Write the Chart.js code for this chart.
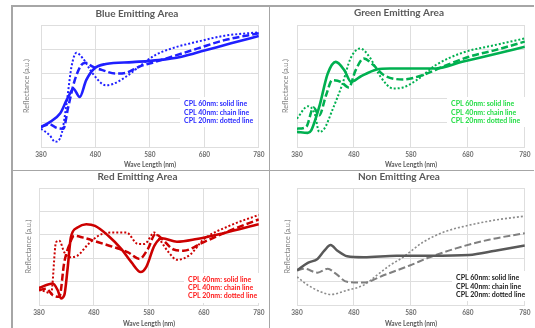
<!DOCTYPE html>
<html>
<head>
<meta charset="utf-8">
<script src="https://cdn.jsdelivr.net/npm/chart.js@4.4.1/dist/chart.umd.min.js"></script>
<style>
  html, body { margin: 0; padding: 0; background: #ffffff; }
  body { width: 535px; height: 328px; position: relative; overflow: hidden; }
  canvas { position: absolute; }
  .rule { position: absolute; background: #a6a6a6; z-index: 5; }
</style>
</head>
<body>
<div class="rule" style="left:11px; top:5px; width:523px; height:1.5px;"></div>
<div class="rule" style="left:11px; top:5px; width:1.5px; height:323px;"></div>
<div class="rule" style="left:268.5px; top:5px; width:1.5px; height:323px;"></div>
<div class="rule" style="left:11px; top:169.5px; width:523px; height:1.5px;"></div>

<canvas id="blueChart"></canvas>
<canvas id="greenChart"></canvas>
<canvas id="redChart"></canvas>
<canvas id="nonChart"></canvas>

<script>
// ---- wavelength axis ----
const waveTicks = [380, 480, 580, 680, 780];
const legendLines = ['CPL 60nm: solid line', 'CPL 40nm: chain line', 'CPL 20nm: dotted line'];

// ---- Blue emitting area ----
const blue60Nm  = [380, 394, 415, 427, 436, 439, 451, 463, 478, 499, 548, 596, 638, 680, 729, 780];
const blue60Val = [0.82, 0.99, 1.37, 1.92, 2.30, 2.40, 2.05, 2.74, 3.22, 3.40, 3.48, 3.56, 3.70, 3.95, 4.25, 4.55];
const blue40Nm  = [380, 396, 409, 421, 430, 442, 454, 462, 475, 493, 517, 536, 560, 590, 620, 668, 717, 780];
const blue40Val = [0.82, 0.93, 0.78, 0.75, 1.64, 2.74, 3.36, 3.45, 3.29, 3.15, 3.01, 3.04, 3.29, 3.49, 3.70, 4.04, 4.38, 4.66];
const blue20Nm  = [380, 396, 406, 418, 427, 436, 445, 457, 475, 499, 512, 536, 560, 590, 620, 668, 717, 780];
const blue20Val = [0.75, 0.48, 0.21, 0.55, 1.78, 3.29, 3.86, 3.63, 3.01, 2.53, 2.58, 2.88, 3.29, 3.77, 4.04, 4.32, 4.56, 4.70];

// ---- Green emitting area ----
const green60Nm  = [380, 399, 405, 419, 434, 448, 463, 475, 491, 520, 543, 584, 624, 670, 728, 780];
const green60Val = [0.62, 0.58, 0.68, 1.64, 3.01, 3.49, 3.15, 2.67, 2.88, 3.18, 3.22, 3.22, 3.22, 3.49, 3.81, 4.11];
const green40Nm  = [380, 396, 409, 419, 431, 442, 457, 471, 483, 497, 514, 532, 566, 601, 636, 682, 728, 780];
const green40Val = [0.75, 0.82, 1.62, 1.30, 2.12, 2.74, 2.67, 2.44, 3.15, 3.63, 3.36, 2.95, 2.77, 2.95, 3.29, 3.70, 3.97, 4.32];
const green20Nm  = [380, 399, 411, 419, 428, 442, 460, 474, 491, 509, 526, 549, 566, 590, 624, 670, 728, 780];
const green20Val = [1.16, 1.67, 1.37, 0.62, 0.75, 1.51, 2.60, 3.63, 4.04, 3.63, 2.90, 2.40, 2.44, 2.74, 3.36, 3.86, 4.18, 4.45];

// ---- Red emitting area ----
const red60Nm  = [380, 405, 414, 420, 426, 432, 438, 450, 466, 482, 506, 530, 548, 565, 575, 590, 604, 631, 667, 714, 780];
const red60Val = [0.73, 0.92, 0.63, 0.28, 0.42, 1.55, 2.89, 3.31, 3.45, 3.38, 2.96, 2.39, 1.83, 1.41, 1.62, 2.54, 2.85, 2.70, 2.82, 3.06, 3.45];
const red40Nm  = [380, 393, 405, 417, 426, 435, 444, 459, 488, 518, 542, 563, 578, 592, 604, 625, 643, 679, 726, 780];
const red40Val = [0.63, 0.70, 0.42, 0.35, 1.83, 2.56, 2.96, 2.89, 2.68, 2.46, 2.25, 1.97, 2.39, 3.03, 2.82, 2.37, 2.32, 2.68, 3.17, 3.66];
const red20Nm  = [380, 393, 402, 411, 417, 426, 435, 450, 470, 494, 518, 539, 560, 572, 590, 601, 616, 631, 655, 679, 726, 780];
const red20Val = [0.66, 0.56, 0.49, 2.68, 2.75, 2.25, 2.04, 2.11, 2.61, 3.03, 3.10, 3.10, 2.61, 2.61, 3.10, 2.75, 2.25, 1.93, 2.15, 2.79, 3.38, 3.85];

// ---- Non emitting area ----
const non60Nm  = [380, 399, 416, 428, 439, 451, 468, 497, 555, 613, 682, 728, 780];
const non60Val = [1.48, 1.80, 1.97, 2.32, 2.56, 2.32, 2.08, 2.04, 2.11, 2.11, 2.14, 2.32, 2.54];
const non40Nm  = [380, 393, 416, 434, 448, 468, 497, 532, 578, 613, 659, 717, 780];
const non40Val = [1.48, 1.55, 1.38, 1.55, 1.34, 0.99, 0.96, 1.27, 1.69, 2.04, 2.42, 2.79, 3.07];
const non20Nm  = [380, 399, 422, 439, 468, 497, 520, 543, 566, 601, 636, 682, 728, 780];
const non20Val = [1.20, 0.85, 0.56, 0.45, 0.63, 0.85, 1.27, 1.69, 2.04, 2.68, 3.10, 3.41, 3.63, 3.80];

const FONT = 'Lato, "Open Sans", sans-serif';
const GRID = '#dedede';
const TEXT = '#595959';

function pts(nm, val) { return nm.map((x, i) => ({ x: x, y: val[i] })); }

function line(nm, val, color, kind, width) {
  const ds = {
    data: pts(nm, val),
    borderColor: color,
    borderWidth: width,
    pointRadius: 0,
    fill: false,
    cubicInterpolationMode: 'monotone',
    borderCapStyle: 'butt'
  };
  if (kind === 'chain') ds.borderDash = [7, 3];
  if (kind === 'dot') ds.borderDash = [2, 2];
  return ds;
}

// white note box with the line-style key
const noteBox = {
  id: 'noteBox',
  afterDraw(chart, args, o) {
    const ctx = chart.ctx;
    ctx.save();
    ctx.fillStyle = '#ffffff';
    ctx.fillRect(o.box[0], o.box[1], o.box[2], o.box[3]);
    ctx.fillStyle = o.color;
    ctx.font = 'bold 7px ' + FONT;
    ctx.textBaseline = 'middle';
    ctx.textAlign = 'left';
    legendLines.forEach((t, i) => ctx.fillText(t, o.x, o.ys[i]));
    ctx.restore();
  }
};

function makeChart(id, pos, lay, title, datasets, note) {
  const cv = document.getElementById(id);
  cv.style.left = pos.left + 'px';
  cv.style.top = pos.top + 'px';
  cv.style.width = pos.w + 'px';
  cv.style.height = pos.h + 'px';
  cv.width = pos.w; cv.height = pos.h;
  return new Chart(cv, {
    type: 'line',
    data: { datasets: datasets },
    options: {
      responsive: false,
      animation: false,
      devicePixelRatio: 1,
      layout: { padding: { left: 0, right: lay.right, top: 0, bottom: 0 } },
      plugins: {
        legend: { display: false },
        tooltip: { enabled: false },
        title: {
          display: true,
          text: title,
          color: TEXT,
          font: { family: FONT, size: 10, weight: 'bold', lineHeight: 1.2 },
          padding: { top: lay.titleTop, bottom: lay.titleBottom }
        },
        noteBox: note
      },
      scales: {
        x: {
          type: 'linear',
          min: 380, max: 780,
          afterBuildTicks: s => { s.ticks = waveTicks.map(v => ({ value: v })); },
          afterFit: s => { s.height = lay.xHeight; },
          grid: { color: GRID, lineWidth: 1, drawTicks: false },
          border: { color: GRID },
          ticks: { color: '#6e6e6e', padding: 4.5, font: { family: FONT, size: 6.5, weight: 'bold' }, maxRotation: 0 },
          title: {
            display: true, text: 'Wave Length (nm)', color: TEXT,
            font: { family: FONT, size: 6.5, weight: 'bold', lineHeight: 1.2 },
            padding: { top: 0, bottom: lay.xTitleBottom }
          }
        },
        y: {
          min: 0, max: 5,
          afterBuildTicks: s => { s.ticks = [0, 1, 2, 3, 4, 5].map(v => ({ value: v })); },
          afterFit: s => { s.width = lay.yWidth; },
          grid: { color: GRID, lineWidth: 1, drawTicks: false },
          border: { color: GRID },
          ticks: { display: false },
          title: {
            display: true, text: 'Reflectance (a.u.)', color: '#7f7f7f',
            font: { family: FONT, size: 7.3, lineHeight: 1.2 },
            padding: { top: lay.yTitleTop, bottom: 0 }
          }
        }
      }
    },
    plugins: [noteBox]
  });
}

// Blue
makeChart('blueChart',
  { left: 12, top: 6, w: 257, h: 164 },
  { right: 7, titleTop: 1.5, titleBottom: 5.5, xHeight: 23, xTitleBottom: 1, yWidth: 29, yTitleTop: 10.6 },
  'Blue Emitting Area',
  [
    line(blue60Nm, blue60Val, '#1f1fff', 'solid', 2.6),
    line(blue40Nm, blue40Val, '#1f1fff', 'chain', 2.5),
    line(blue20Nm, blue20Val, '#1f1fff', 'dot', 2)
  ],
  { color: '#2b2bff', x: 172, ys: [98, 107, 115], box: [168, 91, 78, 30] });

// Green
makeChart('greenChart',
  { left: 270, top: 6, w: 265, h: 164 },
  { right: 7, titleTop: 0.3, titleBottom: 6.7, xHeight: 23, xTitleBottom: 1, yWidth: 27, yTitleTop: 11.6 },
  'Green Emitting Area',
  [
    line(green60Nm, green60Val, '#00b050', 'solid', 2.6),
    line(green40Nm, green40Val, '#00b050', 'chain', 2.5),
    line(green20Nm, green20Val, '#00b050', 'dot', 2)
  ],
  { color: '#22dd44', x: 181, ys: [98, 107, 115], box: [177, 91, 78, 30] });

// Red
makeChart('redChart',
  { left: 12, top: 171, w: 257, h: 157 },
  { right: 6, titleTop: 0, titleBottom: 5, xHeight: 23, xTitleBottom: 0.5, yWidth: 27, yTitleTop: 12.6 },
  'Red Emitting Area',
  [
    line(red60Nm, red60Val, '#cc0000', 'solid', 2.6),
    line(red40Nm, red40Val, '#cc0000', 'chain', 2.5),
    line(red20Nm, red20Val, '#cc0000', 'dot', 2)
  ],
  { color: '#ff1a1a', x: 176, ys: [109, 117, 125], box: [172, 102, 79, 30] });

// Non emitting
makeChart('nonChart',
  { left: 270, top: 171, w: 265, h: 157 },
  { right: 7, titleTop: 0, titleBottom: 5, xHeight: 23, xTitleBottom: 0.5, yWidth: 27, yTitleTop: 13.6 },
  'Non Emitting Area',
  [
    line(non60Nm, non60Val, '#595959', 'solid', 2.5),
    line(non40Nm, non40Val, '#7f7f7f', 'chain', 2),
    line(non20Nm, non20Val, '#8c8c8c', 'dot', 1.6)
  ],
  { color: '#1a1a1a', x: 186, ys: [107, 116, 124], box: [182, 100, 79, 30] });
</script>
</body>
</html>
